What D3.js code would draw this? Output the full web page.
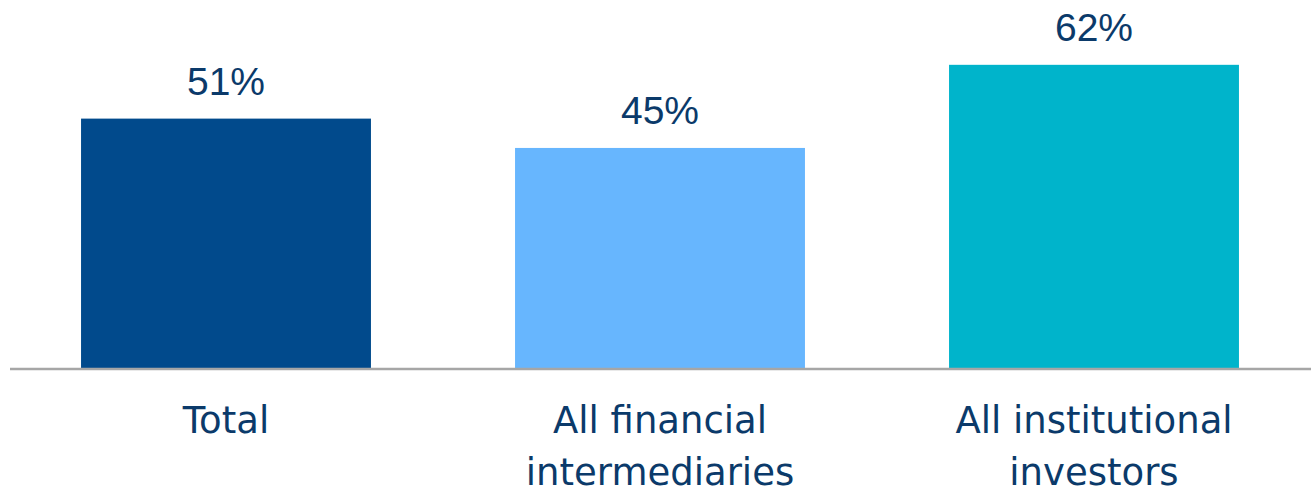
<!DOCTYPE html>
<html>
<head>
<meta charset="utf-8">
<script src="https://cdn.jsdelivr.net/npm/d3@7"></script>
<style>
  html, body { margin: 0; padding: 0; background: #ffffff; }
  svg { display: block; }
</style>
</head>
<body>
<svg id="chart" width="1311" height="491"></svg>
<script>
// Share of respondents by institution type
const categories = ["Total", "All financial intermediaries", "All institutional investors"];
const categoryLines = [["Total"], ["All financial", "intermediaries"], ["All institutional", "investors"]];
const values = [51, 45, 62];
const valueLabels = ["51%", "45%", "62%"];
const barColors = ["#014a8c", "#67b6fe", "#00b4cb"];

const baseline = 368;
const textColor = "#0b3a6a";

const svg = d3.select("#chart");

const x = d3.scaleBand()
  .domain(categories)
  .range([9, 1311])
  .paddingInner(0.332)
  .paddingOuter(0.166);

const y = d3.scaleLinear()
  .domain([0, 100])
  .range([baseline, baseline - 489]);

// bars
svg.append("g").selectAll("rect")
  .data(categories)
  .join("rect")
  .attr("x", d => x(d))
  .attr("width", x.bandwidth())
  .attr("y", (d, i) => y(values[i]))
  .attr("height", (d, i) => y(0) - y(values[i]))
  .attr("fill", (d, i) => barColors[i]);

// baseline axis
const axis = svg.append("g")
  .attr("transform", `translate(0,${baseline + 1})`)
  .call(d3.axisBottom(x).tickSize(0).tickFormat(""));
axis.select(".domain")
  .attr("d", "M10,0H1311")
  .attr("stroke", "#a6a6a6")
  .attr("stroke-width", 2.5);

// value labels
svg.append("g").selectAll("text")
  .data(categories)
  .join("text")
  .attr("x", d => x(d) + x.bandwidth() / 2)
  .attr("y", (d, i) => y(values[i]) - 24)
  .attr("text-anchor", "middle")
  .attr("font-family", "'Liberation Sans', Arial, sans-serif")
  .attr("font-size", 39)
  .attr("fill", textColor)
  .text((d, i) => valueLabels[i]);

// category labels
const cat = svg.append("g").selectAll("text")
  .data(categories)
  .join("text")
  .attr("x", d => x(d) + x.bandwidth() / 2)
  .attr("y", 433)
  .attr("text-anchor", "middle")
  .attr("font-family", "'DejaVu Sans', sans-serif")
  .attr("font-size", 37)
  .attr("fill", textColor);
cat.selectAll("tspan")
  .data((d, i) => categoryLines[i])
  .join("tspan")
  .attr("x", function () { return d3.select(this.parentNode).attr("x"); })
  .attr("dy", (d, j) => j === 0 ? 0 : 52)
  .text(d => d);
</script>
</body>
</html>
